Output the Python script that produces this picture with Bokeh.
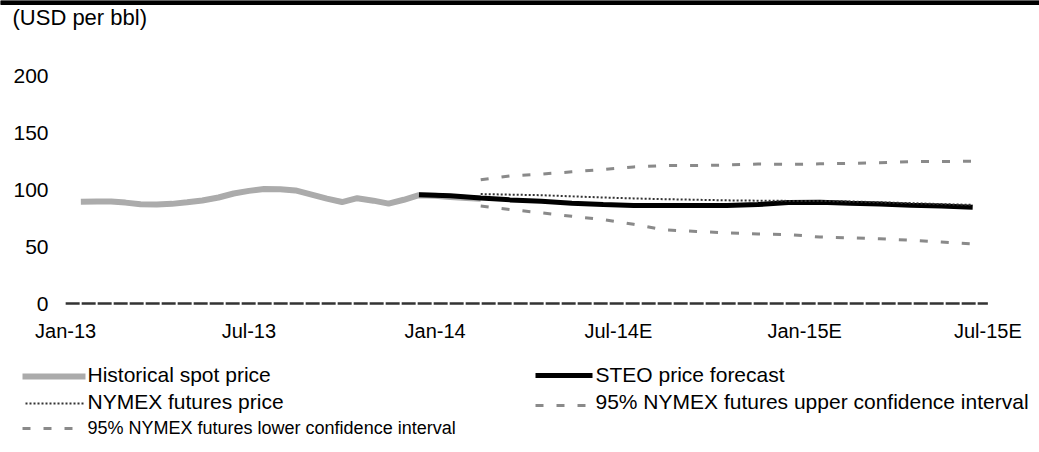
import pandas as pd
from bokeh.plotting import figure
from bokeh.models import Range1d, FixedTicker
from bokeh.layouts import column
from bokeh.core.properties import value
from bokeh.embed import file_html
from bokeh.resources import INLINE

# ---------------- data ----------------
hist_dates = ["2013-01-16", "2013-02-01", "2013-02-15", "2013-03-01", "2013-03-16",
              "2013-04-01", "2013-04-16", "2013-05-01", "2013-05-16", "2013-06-01",
              "2013-06-16", "2013-07-01", "2013-07-16", "2013-08-01", "2013-08-16",
              "2013-09-01", "2013-09-16", "2013-10-01", "2013-10-16", "2013-11-01",
              "2013-11-16", "2013-12-01", "2013-12-16", "2014-01-01", "2014-01-16",
              "2014-02-01", "2014-02-15"]
hist_price = [89.3, 89.5, 89.5, 88.5, 87.0, 86.8, 87.4, 88.8, 90.4, 93.0,
              96.5, 98.8, 100.4, 100.3, 99.2, 95.5, 92.0, 89.0, 92.4, 90.2,
              87.6, 91.0, 95.0, 94.5, 93.5, 92.6, 91.8]

steo_dates = ["2013-12-16", "2014-01-16", "2014-02-15", "2014-03-16", "2014-04-16",
              "2014-05-16", "2014-06-16", "2014-07-16", "2014-08-16", "2014-09-16",
              "2014-10-16", "2014-11-16", "2014-12-16", "2015-01-16", "2015-02-15",
              "2015-03-16", "2015-04-16", "2015-05-16", "2015-06-16"]
steo_price = [95.3, 94.5, 92.5, 90.9, 89.8, 88.0, 86.8, 86.0, 86.0, 86.0,
              86.0, 86.8, 88.5, 88.9, 88.0, 87.2, 86.2, 85.5, 84.5]

fut_dates = ["2014-02-15", "2014-03-16", "2014-04-16", "2014-05-16", "2014-06-16",
             "2014-07-16", "2014-08-16", "2014-09-16", "2014-10-16", "2014-11-16",
             "2014-12-16", "2015-01-16", "2015-02-15", "2015-03-16", "2015-04-16",
             "2015-05-16", "2015-06-16"]
nymex_price = [96.0, 95.5, 95.0, 94.0, 93.0, 92.2, 91.5, 91.0, 90.5, 90.2,
               90.0, 90.0, 89.5, 88.8, 88.0, 87.2, 86.5]
upper_ci = [108.5, 112.0, 113.5, 115.5, 117.5, 119.8, 121.0, 121.0, 121.5, 122.3,
            122.0, 122.5, 123.0, 123.5, 124.5, 124.6, 124.8]
lower_ci = [85.5, 82.5, 79.5, 76.5, 73.7, 69.5, 64.5, 63.2, 62.0, 61.0,
            60.5, 58.3, 57.6, 56.8, 55.5, 54.0, 52.3]

tick_dates = ["2013-01-01", "2013-07-01", "2014-01-01", "2014-07-01", "2015-01-01", "2015-07-01"]
tick_labels = ["Jan-13", "Jul-13", "Jan-14", "Jul-14E", "Jan-15E", "Jul-15E"]
y_ticks = [0, 50, 100, 150, 200]

series_names = ["Historical spot price", "NYMEX futures price",
                "95% NYMEX futures lower confidence interval",
                "STEO price forecast", "95% NYMEX futures upper confidence interval"]

# ---------------- styles ----------------
FONT = "Liberation Sans"
HIST_C, HIST_W = "#ababab", 6
STEO_C, STEO_W = "#000000", 5
NYM_C, NYM_W, NYM_D = "#333333", 2, "2 2"
CI_C, CI_W, CI_D = "#8a8a8a", 3, "8 13"

W = 1039

def bare(fig):
    fig.grid.visible = False
    fig.outline_line_color = None
    fig.background_fill_color = "white"
    fig.border_fill_color = "white"
    return fig

# ---------------- top strip (rule + unit label) ----------------
top = bare(figure(width=W, height=32, output_backend="svg", toolbar_location=None,
                  x_range=Range1d(0, W), y_range=Range1d(32, 0),
                  x_axis_location=None, y_axis_location=None, frame_align=False,
                  min_border=0, min_border_left=0, min_border_right=0,
                  min_border_top=0, min_border_bottom=0))
top.quad(left=[0], right=[W], top=[0], bottom=[4], color="black")
top.text(x=[12], y=[17], text=["(USD per bbl)"], text_font=value(FONT),
         text_font_size="22px", text_baseline="middle", text_align="left", text_color="black")

# ---------------- main chart ----------------
hx = pd.to_datetime(hist_dates)
sx = pd.to_datetime(steo_dates)
fx = pd.to_datetime(fut_dates)
tx = pd.to_datetime(tick_dates)

p = bare(figure(width=W, height=330, output_backend="svg", toolbar_location=None,
                x_axis_type="datetime", frame_align=False,
                x_range=Range1d(pd.Timestamp("2012-12-19"), pd.Timestamp("2015-08-21")),
                y_range=Range1d(-1.75, 237.72),
                min_border_left=52, min_border_right=0, min_border_top=0, min_border_bottom=57))

# zero axis line
p.line(x=[tx[0], tx[-1]], y=[0, 0], line_color="#333333", line_width=2.5, line_dash="14 2")

p.line(x=hx, y=hist_price, line_color=HIST_C, line_width=HIST_W)
p.line(x=fx, y=upper_ci, line_color=CI_C, line_width=CI_W, line_dash=CI_D)
p.line(x=fx, y=lower_ci, line_color=CI_C, line_width=CI_W, line_dash=CI_D)
p.line(x=sx, y=steo_price, line_color=STEO_C, line_width=STEO_W)
p.line(x=fx, y=nymex_price, line_color=NYM_C, line_width=NYM_W, line_dash=NYM_D)

tick_ms = [float(t.value // 10**6) for t in tx]
xa = p.xaxis[0]
xa.ticker = FixedTicker(ticks=tick_ms)
xa.major_label_overrides = {ms: lab for ms, lab in zip(tick_ms, tick_labels)}
xa.axis_line_color = None
xa.major_tick_line_color = None
xa.minor_tick_line_color = None
xa.major_tick_out = 0
xa.major_label_standoff = 14
xa.major_label_text_font = FONT
xa.major_label_text_font_size = "20px"
xa.major_label_text_color = "black"

ya = p.yaxis[0]
ya.ticker = FixedTicker(ticks=y_ticks)
ya.axis_line_color = None
ya.major_tick_line_color = None
ya.minor_tick_line_color = None
ya.major_tick_out = 0
ya.major_label_standoff = 4
ya.major_label_text_font = FONT
ya.major_label_text_font_size = "21px"
ya.major_label_text_color = "black"

# ---------------- legend strip ----------------
lg = bare(figure(width=W, height=90, output_backend="svg", toolbar_location=None,
                 x_range=Range1d(0, W), y_range=Range1d(452, 362),
                 x_axis_location=None, y_axis_location=None, frame_align=False,
                 min_border=0, min_border_left=0, min_border_right=0,
                 min_border_top=0, min_border_bottom=0))

lg.line(x=[22, 85], y=[376, 376], line_color=HIST_C, line_width=HIST_W)
lg.line(x=[25, 83], y=[403, 403], line_color=NYM_C, line_width=NYM_W, line_dash=NYM_D)
lg.line(x=[22, 85], y=[428, 428], line_color=CI_C, line_width=CI_W, line_dash=CI_D)
lg.line(x=[535, 592], y=[375, 375], line_color=STEO_C, line_width=STEO_W)
lg.line(x=[535, 592], y=[405, 405], line_color=CI_C, line_width=CI_W, line_dash=CI_D)

lg.text(x=[87, 87], y=[374, 401], text=series_names[0:2], text_font=value(FONT),
        text_font_size="21px", text_baseline="middle", text_align="left", text_color="black")
lg.text(x=[87], y=[427], text=series_names[2:3], text_font=value(FONT),
        text_font_size="18px", text_baseline="middle", text_align="left", text_color="black")
lg.text(x=[595, 595], y=[374, 401], text=series_names[3:5], text_font=value(FONT),
        text_font_size="21px", text_baseline="middle", text_align="left", text_color="black")

layout = column(top, p, lg, spacing=0)
open("out.html", "w").write(file_html(layout, INLINE))
